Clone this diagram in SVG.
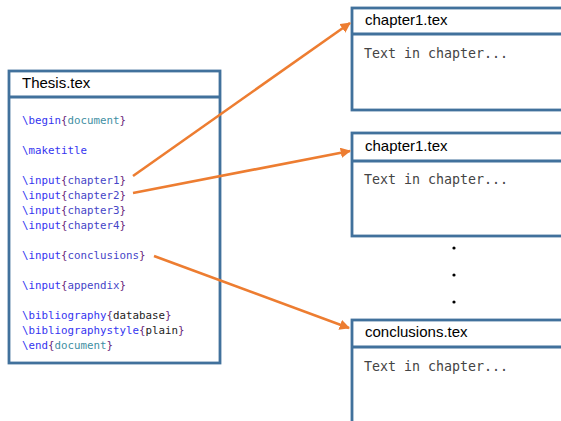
<svg xmlns="http://www.w3.org/2000/svg" width="561" height="421" viewBox="0 0 561 421">
<defs>
<style>
.box{fill:#ffffff;stroke:#41719c;stroke-width:2.8}
.div{stroke:#41719c;stroke-width:2.8}
.hdr{font-family:"Liberation Sans",Arial,sans-serif;font-size:15px;fill:#000}
.code{font-family:"DejaVu Sans Mono","Liberation Mono",monospace;font-size:10.8px;fill:#000}
.cmd{fill:#3535f0}
.br{fill:#6a1f7a}
.doc{fill:#3f8fa3}
.arg{fill:#4646c8}
.plain{fill:#222}
.txt{font-family:"DejaVu Sans Mono","Liberation Mono",monospace;font-size:13.3px;fill:#444}
.conn{stroke:#ed7d31;stroke-width:2.6;fill:none;marker-end:url(#ah)}
</style>
<marker id="ah" viewBox="0 0 10 10" refX="9" refY="5" markerWidth="4" markerHeight="4" orient="auto" markerUnits="strokeWidth">
<path d="M0,0 L10,5 L0,10 z" fill="#ed7d31"/>
</marker>
</defs>
<rect width="561" height="421" fill="#ffffff"/>

<g id="thesis">
<rect class="box" x="9" y="71" width="211" height="292"/>
<line class="div" x1="9" y1="97" x2="220" y2="97"/>
<text class="hdr" x="22" y="88">Thesis.tex</text>
<text class="code" x="22" y="124"><tspan class="cmd">\begin</tspan><tspan class="br">{</tspan><tspan class="doc">document</tspan><tspan class="br">}</tspan></text>
<text class="code" x="22" y="154"><tspan class="cmd">\maketitle</tspan></text>
<text class="code" x="22" y="184"><tspan class="cmd">\input</tspan><tspan class="br">{</tspan><tspan class="arg">chapter1</tspan><tspan class="br">}</tspan></text>
<text class="code" x="22" y="199"><tspan class="cmd">\input</tspan><tspan class="br">{</tspan><tspan class="arg">chapter2</tspan><tspan class="br">}</tspan></text>
<text class="code" x="22" y="214"><tspan class="cmd">\input</tspan><tspan class="br">{</tspan><tspan class="arg">chapter3</tspan><tspan class="br">}</tspan></text>
<text class="code" x="22" y="229"><tspan class="cmd">\input</tspan><tspan class="br">{</tspan><tspan class="arg">chapter4</tspan><tspan class="br">}</tspan></text>
<text class="code" x="22" y="259"><tspan class="cmd">\input</tspan><tspan class="br">{</tspan><tspan class="arg">conclusions</tspan><tspan class="br">}</tspan></text>
<text class="code" x="22" y="289"><tspan class="cmd">\input</tspan><tspan class="br">{</tspan><tspan class="arg">appendix</tspan><tspan class="br">}</tspan></text>
<text class="code" x="22" y="319"><tspan class="cmd">\bibliography</tspan><tspan class="br">{</tspan><tspan class="plain">database</tspan><tspan class="br">}</tspan></text>
<text class="code" x="22" y="334"><tspan class="cmd">\bibliographystyle</tspan><tspan class="br">{</tspan><tspan class="plain">plain</tspan><tspan class="br">}</tspan></text>
<text class="code" x="22" y="349"><tspan class="cmd">\end</tspan><tspan class="br">{</tspan><tspan class="doc">document</tspan><tspan class="br">}</tspan></text>
</g>

<g id="chapter1a">
<rect class="box" x="352" y="8" width="220" height="102"/>
<line class="div" x1="352" y1="34" x2="572" y2="34"/>
<text class="hdr" x="365" y="25">chapter1.tex</text>
<text class="txt" x="364" y="58">Text in chapter...</text>
</g>

<g id="chapter1b">
<rect class="box" x="352" y="133" width="220" height="103"/>
<line class="div" x1="352" y1="161" x2="572" y2="161"/>
<text class="hdr" x="365" y="151">chapter1.tex</text>
<text class="txt" x="364" y="184">Text in chapter...</text>
</g>

<g id="dots" fill="#000">
<circle cx="454" cy="248" r="1.6"/>
<circle cx="454" cy="275" r="1.6"/>
<circle cx="454" cy="302" r="1.6"/>
</g>

<g id="conclusions">
<rect class="box" x="352" y="320" width="220" height="120"/>
<line class="div" x1="352" y1="347" x2="572" y2="347"/>
<text class="hdr" x="365" y="337">conclusions.tex</text>
<text class="txt" x="364" y="371">Text in chapter...</text>
</g>

<g id="connectors">
<line class="conn" x1="133" y1="176" x2="350" y2="23"/>
<line class="conn" x1="133" y1="193" x2="350" y2="151"/>
<line class="conn" x1="154" y1="256" x2="349" y2="328"/>
</g>
</svg>
